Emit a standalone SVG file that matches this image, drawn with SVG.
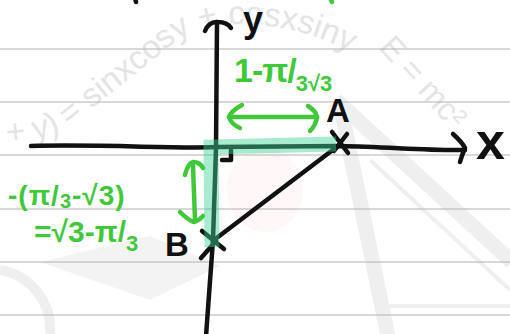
<svg xmlns="http://www.w3.org/2000/svg" width="510" height="334" viewBox="0 0 510 334">
<style>
.rule{stroke:#b2b2b2;stroke-width:1.2}
.ink{stroke:#111;stroke-width:4.5;fill:none;stroke-linecap:round;stroke-linejoin:round}
.gink{stroke:#40c83a;stroke-width:4.5;fill:none;stroke-linecap:round;stroke-linejoin:round}
.hl{stroke:rgb(62,213,151);stroke-opacity:0.45;fill:none}
.lbl{font-family:"Liberation Sans",Arial,sans-serif;font-weight:bold;fill:#111}
.glbl{font-family:"Liberation Sans",Arial,sans-serif;font-weight:bold;fill:#40c83a}
.wm{font-family:"Liberation Sans",Arial,sans-serif;fill:#e4e4e4}
.wms{stroke:#efefef;fill:none}
</style>
<defs>
<path id="wmarc" d="M-30,143 C20,145 55,140 75,122 L175,42 C195,28 212,24 235,24 C280,24 320,34 360,58"/>
</defs>
<rect width="510" height="334" fill="#fff"/>
<g id="watermark">
<ellipse cx="265" cy="190" rx="38" ry="42" fill="#fef6f7"/>
<path class="wms" stroke-width="15" d="M336,100 L512,262 M340,104 L388,336"/>
<path class="wms" stroke-width="4" d="M382,306 L512,306 M370,160 L510,290"/>
<path d="M40,262 L150,236 L220,266 L150,300 Z" fill="#f3f3f3"/>
<path class="wms" stroke-width="10" d="M0,270 A60,60 0 0 1 50,334"/>
<text class="wm" font-size="33"><textPath href="#wmarc">(x + y) = sinxcosy + cosxsiny</textPath></text>
<text class="wm" font-size="32" transform="translate(378,48) rotate(48)">E = mc²</text>
</g>
<g id="rules">
<line class="rule" x1="0" y1="49" x2="510" y2="49"/>
<line class="rule" x1="0" y1="102" x2="510" y2="102"/>
<line class="rule" x1="0" y1="155" x2="510" y2="155"/>
<line class="rule" x1="0" y1="209" x2="510" y2="209"/>
<line class="rule" x1="0" y1="262" x2="510" y2="262"/>
<line class="rule" x1="0" y1="315" x2="510" y2="315"/>
</g>
<g id="cutoff">
<path class="ink" d="M135,-2 L136,2"/>
<path class="gink" d="M330,-2 L332,2"/>
</g>
<g id="axes">
<path class="ink" d="M31,146 C100,144 180,149 216,147 L340,146 C390,147 430,151 465,150"/>
<path class="ink" d="M453,134 Q462,142 465,148 Q462,155 460,162"/>
<path class="ink" d="M217,23 L216,148 L213,240 L206,336"/>
<path class="ink" d="M205,31 Q209,21 218,22 Q227,22 231,28"/>
<path class="ink" stroke-width="3.5" d="M231,150 L231,160 L222,160"/>
<text class="lbl" x="243" y="32" font-size="36">y</text>
<text class="lbl" x="476" y="159" font-size="52">x</text>
</g>
<g id="connectors">
<path class="ink" d="M338,146 L214,240"/>
</g>
<g id="A">
<path class="ink" d="M332,132 L348,153 M334,151 L347,134"/>
<text class="lbl" x="326" y="122" font-size="33">A</text>
</g>
<g id="B">
<path class="ink" d="M202,231 L224,249 M201,258 L216,241"/>
<text class="lbl" x="165" y="256" font-size="33">B</text>
</g>
<g id="highlight">
<path class="hl" stroke-width="15" stroke-linejoin="miter" d="M336,144 L211,147 L212,247"/>
</g>
<g id="measure-horizontal">
<path class="gink" d="M229,117 L317,117"/>
<path class="gink" d="M242,105 Q231,111 229,117 Q231,124 240,128"/>
<path class="gink" d="M308,106 Q316,111 317,117 Q316,125 310,131"/>
<text class="glbl" x="234" y="82" font-size="34" letter-spacing="-1">1-π/<tspan font-size="22" dy="9" letter-spacing="0">3√3</tspan></text>
</g>
<g id="measure-vertical">
<path class="gink" d="M193,166 L195,220"/>
<path class="gink" d="M185,175 Q188,163 193,162 Q200,162 203,168"/>
<path class="gink" d="M180,212 Q188,220 194,222 Q200,220 203,216"/>
<text class="glbl" x="8" y="205" font-size="28" letter-spacing="1">-(π/<tspan font-size="20" dy="3">3</tspan><tspan dy="-3">-√3)</tspan></text>
<text class="glbl" x="34" y="242" font-size="30">=√3-π/<tspan font-size="22" dy="9">3</tspan></text>
</g>
</svg>
